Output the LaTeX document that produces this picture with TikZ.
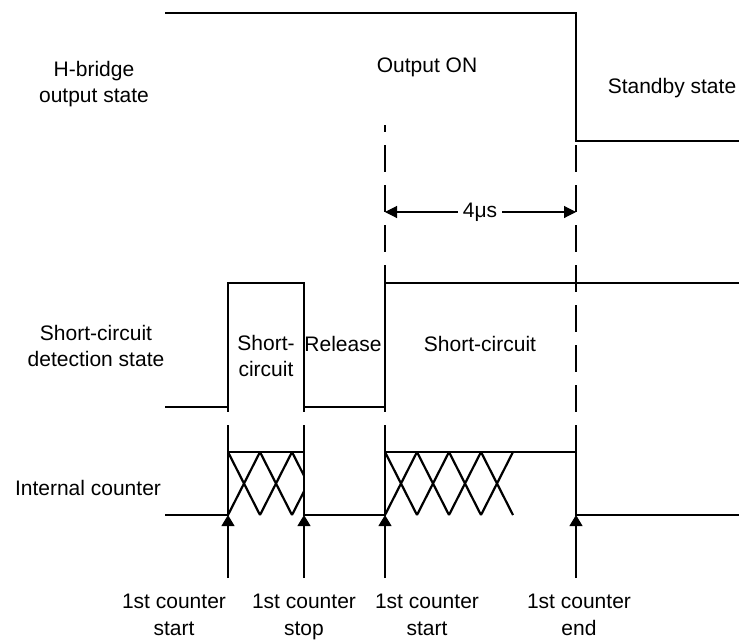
\documentclass[tikz,border=0pt]{standalone}
\usepackage{fontspec}
\setmainfont{Liberation Sans}
\usetikzlibrary{arrows.meta}
\tikzset{
  lbl/.style={inner sep=0pt, align=center, font=\fontsize{21}{26.5}\selectfont},
  sig/.style={line width=2.6pt, line join=miter, line cap=butt},
  guide/.style={line width=1.1pt, dash pattern=on 27pt off 13pt},
  xline/.style={line width=2.2pt},
  marker/.style={line width=1.1pt, -{Triangle[length=11pt,width=13pt]}},
  span/.style={line width=1.1pt, {Triangle[length=12pt,width=12pt]}-{Triangle[length=12pt,width=12pt]}}
}
\begin{document}
\begin{tikzpicture}[x=1pt,y=-1pt]
\useasboundingbox (0,0) rectangle (740,643);
% H-bridge output state
\draw[sig] (165,13) -- (576,13) -- (576,141) -- (739,141);
% short-circuit detection state
\draw[sig] (165,407) -- (228,407) -- (228,283) -- (304,283) -- (304,407) -- (385,407) -- (385,283) -- (739,283);
% internal counter
\draw[sig] (165,515) -- (228,515) -- (228,452) -- (304,452) -- (304,515) -- (385,515) -- (385,452) -- (576,452) -- (576,515) -- (739,515);
% cross hatching
\begin{scope}
\clip (228,452) rectangle (304,515);
\foreach \x in {228,260,292} {
  \draw[xline] (\x,515) -- ({\x+32},452);
  \draw[xline] (\x,452) -- ({\x+32},515);
}
\end{scope}
\foreach \x in {385,417,449,481} {
  \draw[xline] (\x,515) -- ({\x+32},452);
  \draw[xline] (\x,452) -- ({\x+32},515);
}
% dashed guides
\draw[guide, dash phase=20pt] (385,125) -- (385,452);
\draw[guide, dash phase=36pt] (576,141) -- (576,452);
\draw[guide, dash phase=18pt] (228,283) -- (228,452);
\draw[guide, dash phase=18pt] (304,283) -- (304,452);
% 4 us span
\coordinate (sa) at (385,212);
\coordinate (sb) at (576,212);
\draw[span] (sa) -- (sb);
\node[lbl, fill=white, inner xsep=5pt, inner ysep=2pt] (tus) at (480,212) {4μs};
% markers
\coordinate (m1s) at (228,578); \coordinate (m1e) at (228,515);
\coordinate (m2s) at (304,578); \coordinate (m2e) at (304,515);
\coordinate (m3s) at (385,578); \coordinate (m3e) at (385,515);
\coordinate (m4s) at (576,578); \coordinate (m4e) at (576,515);
\draw[marker] (m1s) -- (m1e);
\draw[marker] (m2s) -- (m2e);
\draw[marker] (m3s) -- (m3e);
\draw[marker] (m4s) -- (m4e);
% labels
\node[lbl] (hb) at (94,84) {H-bridge\\output state};
\node[lbl] (on) at (427,67) {Output ON};
\node[lbl] (stb) at (672,88) {Standby state};
\node[lbl] (scd) at (96,346) {Short-circuit\\detection state};
\node[lbl] (sc1) at (266,356) {Short-\\circuit};
\node[lbl] (rel) at (343,344) {Release};
\node[lbl] (sc2) at (480,344) {Short-circuit};
\node[lbl] (ic) at (88,488) {Internal counter};
\node[lbl, anchor=north] (b1) at (174,594) {1st counter\\start};
\node[lbl, anchor=north] (b2) at (304,594) {1st counter\\stop};
\node[lbl, anchor=north] (b3) at (427,594) {1st counter\\start};
\node[lbl, anchor=north] (b4) at (579,594) {1st counter\\end};
\end{tikzpicture}
\end{document}
